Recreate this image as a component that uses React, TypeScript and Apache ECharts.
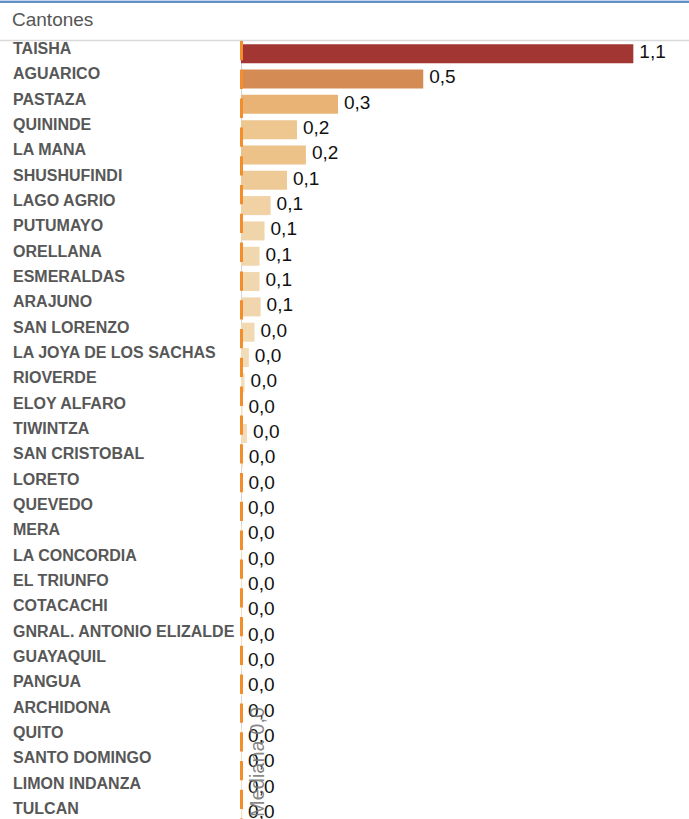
import React, { useEffect, useRef } from "react";
import * as echarts from "echarts";

const categories = [
  "TAISHA", "AGUARICO", "PASTAZA", "QUININDE", "LA MANA", "SHUSHUFINDI",
  "LAGO AGRIO", "PUTUMAYO", "ORELLANA", "ESMERALDAS", "ARAJUNO", "SAN LORENZO",
  "LA JOYA DE LOS SACHAS", "RIOVERDE", "ELOY ALFARO", "TIWINTZA", "SAN CRISTOBAL",
  "LORETO", "QUEVEDO", "MERA", "LA CONCORDIA", "EL TRIUNFO", "COTACACHI",
  "GNRAL. ANTONIO ELIZALDE", "GUAYAQUIL", "PANGUA", "ARCHIDONA", "QUITO",
  "SANTO DOMINGO", "LIMON INDANZA", "TULCAN",
];

const values = [
  1.1, 0.511, 0.272, 0.157, 0.182, 0.129, 0.083, 0.066, 0.052, 0.052, 0.055,
  0.038, 0.022, 0.01, 0.004, 0.017, 0.005, 0.004, 0.003, 0.003, 0.003, 0.003,
  0.003, 0.003, 0.003, 0.003, 0.003, 0.003, 0.003, 0.003, 0.003,
];

const medianValue = 0.004;
const medianLabel = "Mediana 0,0";
const headerTitle = "Cantones";

const colorStops = [
  "#f3dfbe", "#efcf9f", "#ecbf84", "#e6ae6e", "#df9f62", "#d68d55",
  "#cd7f4f", "#c5704a", "#bc6244", "#b3533e", "#ab4539", "#a23633",
];

const FONT = "'Liberation Sans', Arial, sans-serif";

export default function App() {
  const ref = useRef<HTMLDivElement>(null);

  useEffect(() => {
    if (!ref.current) return;
    const chart = echarts.init(ref.current, null, { renderer: "svg" });
    const data = values.map((v, i) => [v, categories[i]]);
    chart.setOption({
      animation: false,
      backgroundColor: "#ffffff",
      textStyle: { fontFamily: FONT },
      grid: { left: 241, top: 41, right: 20, bottom: 0, containLabel: false },
      visualMap: {
        show: false,
        type: "continuous",
        dimension: 0,
        seriesIndex: 0,
        min: 0,
        max: 1.1,
        inRange: { color: colorStops },
      },
      xAxis: {
        type: "value",
        min: 0,
        max: 1.2,
        show: false,
        splitLine: { show: false },
      },
      yAxis: {
        type: "category",
        data: categories,
        inverse: true,
        axisLine: { show: true, lineStyle: { color: "#d4d4d4", width: 1 } },
        axisTick: { show: false },
        axisLabel: {
          align: "left",
          margin: 228,
          fontSize: 16,
          fontWeight: "bold",
          color: "#575757",
          fontFamily: FONT,
          verticalAlign: "bottom",
          lineHeight: 10,
        },
      },
      graphic: [
        { type: "rect", shape: { x: 0, y: 0, width: 689, height: 1 }, style: { fill: "#c3d4ea" } },
        { type: "rect", shape: { x: 0, y: 1, width: 689, height: 2 }, style: { fill: "#6390c8" } },
        {
          type: "text",
          x: 12,
          y: 19,
          style: {
            text: headerTitle,
            fontSize: 19,
            fill: "#555555",
            fontFamily: FONT,
            verticalAlign: "middle",
            align: "left",
          },
        },
        {
          type: "line",
          shape: { x1: 0, y1: 40.5, x2: 689, y2: 40.5 },
          style: { stroke: "#d9d9d9", lineWidth: 1.5 },
        },
        {
          type: "text",
          x: 257,
          y: 817,
          rotation: Math.PI / 2,
          z: 100,
          style: {
            text: medianLabel,
            fontSize: 20,
            fill: "#777777",
            opacity: 0.9,
            fontFamily: FONT,
            align: "left",
            verticalAlign: "middle",
          },
        },
      ],
      series: [
        {
          type: "bar",
          data,
          encode: { x: 0, y: 1 },
          barWidth: 19,
          label: {
            show: true,
            position: "right",
            distance: 6,
            fontSize: 19,
            color: "#111111",
            fontFamily: FONT,
            offset: [0, -2],
            formatter: (p: any) => Number(p.value[0]).toFixed(1).replace(".", ","),
          },
          markLine: {
            silent: true,
            symbol: "none",
            lineStyle: {
              color: "#f28e2b",
              width: 3,
              type: [19.3, 9.5],
              dashOffset: 0,
            },
            label: { show: false },
            data: [{ xAxis: medianValue }],
          },
        },
      ],
    });
    return () => chart.dispose();
  }, []);

  return (
    <div
      ref={ref}
      style={{ position: "fixed", left: 0, top: 0, width: 689, height: 826 }}
    />
  );
}
